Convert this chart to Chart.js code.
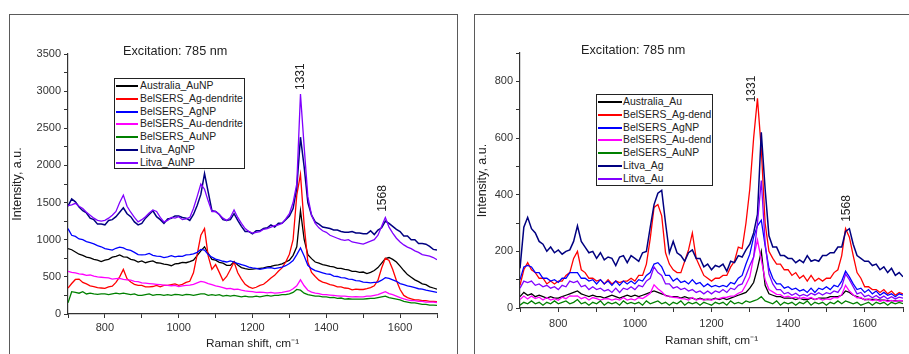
<!DOCTYPE html>
<html><head><meta charset="utf-8">
<script src="https://cdn.jsdelivr.net/npm/chart.js@4.4.1/dist/chart.umd.min.js"></script>
<style>
html,body{margin:0;padding:0;background:#fff;width:909px;height:354px;overflow:hidden;font-family:"Liberation Sans",Arial,sans-serif;}
#wrap{position:relative;width:909px;height:354px;overflow:hidden;}
.frame{position:absolute;border:1.5px solid #5a5a5a;box-sizing:border-box;}
#f1{left:9px;top:14px;width:449px;height:370px;}
#f2{left:474px;top:14px;width:470px;height:370px;}
.cw{position:absolute;top:0;}
#cw1{left:0;width:460px;height:354px;}
#cw2{left:460px;width:449px;height:354px;}
.legend{position:absolute;border:1.5px solid #222;background:#fff;box-sizing:border-box;font-size:10.4px;color:#222;z-index:3;}
.row{position:absolute;left:0;right:0;height:13px;line-height:13px;white-space:nowrap;}
.sw{position:absolute;left:1px;top:6px;height:2px;}
.lt{position:absolute;top:0;}
.exc{position:absolute;font-size:12.7px;color:#222;z-index:3;white-space:nowrap;}
</style></head>
<body><div id="wrap">
<div class="frame" id="f1"></div>
<div class="frame" id="f2"></div>
<div class="cw" id="cw1"><canvas id="c1"></canvas></div>
<div class="cw" id="cw2"><canvas id="c2"></canvas></div>
<div class="exc" style="left:123px;top:44px;">Excitation: 785 nm</div>
<div class="exc" style="left:581px;top:43px;">Excitation: 785 nm</div>
<div class="legend" id="lg1" style="left:114px;top:78px;width:131px;height:91px;"></div>
<div class="legend" id="lg2" style="left:596px;top:94px;width:117px;height:92px;"></div>
</div>
<script>
// Raman shift axis (cm-1)
const ramanShift = [700,710,720,730,740,750,760,770,780,790,
800,810,820,830,840,850,860,870,880,890,
900,910,920,930,940,950,960,970,980,990,
1000,1010,1020,1030,1040,1050,1060,1070,1080,1090,
1100,1110,1120,1130,1140,1150,1160,1170,1180,1190,
1200,1210,1220,1230,1240,1250,1260,1270,1280,1290,
1300,1310,1320,1330,1340,1350,1360,1370,1380,1390,
1400,1410,1420,1430,1440,1450,1460,1470,1480,1490,
1500,1510,1520,1530,1540,1550,1560,1570,1580,1590,
1600,1610,1620,1630,1640,1650,1660,1670,1680,1690,
1700];

// ---- Left panel series ----
const namesLeft = ["Australia_AuNP","BelSERS_Ag-dendrite","BelSERS_AgNP","BelSERS_Au-dendrite","BelSERS_AuNP","Litva_AgNP","Litva_AuNP"];
const L_australia = [880,865,835,805,790,765,755,735,725,705,
725,735,765,775,795,770,765,735,725,700,
715,690,705,715,690,685,670,665,650,675,
680,695,690,705,725,785,850,905,815,735,
725,695,685,655,655,705,660,625,610,600,
605,610,615,620,635,640,655,660,675,700,
725,790,905,1390,1005,800,745,700,685,665,
655,640,635,615,615,600,595,575,575,560,
565,545,560,585,625,685,745,760,735,700,
645,585,530,495,460,435,405,395,365,350,
335];
const L_agDendrite = [350,410,465,470,425,405,380,370,355,350,
345,365,375,425,500,600,475,430,400,385,
385,365,365,370,385,365,385,385,395,405,
385,400,425,440,555,800,1060,1150,780,600,
665,560,450,505,600,700,555,470,400,365,
345,360,385,400,440,485,520,575,620,700,
805,1000,1600,1880,1200,700,560,505,455,430,
415,395,385,365,365,350,345,325,335,330,
330,340,355,380,455,620,750,720,600,450,
330,250,220,205,190,190,180,180,170,170,
165];
const L_agNP = [1150,1060,1045,1010,1000,975,960,945,920,905,
880,870,860,885,900,890,865,855,830,800,
795,800,815,790,780,775,760,770,785,770,
780,775,795,800,810,830,870,860,800,765,
740,725,710,700,715,700,680,665,650,630,
620,615,600,610,620,625,610,620,630,650,
680,720,800,890,780,655,610,585,570,555,
540,535,510,505,490,485,470,465,450,445,
430,425,420,425,430,455,490,480,460,440,
410,395,380,370,355,340,335,320,310,300,
290];
const L_auDendrite = [575,560,555,540,535,520,525,510,500,495,
490,485,470,475,480,465,460,455,440,435,
420,415,410,405,400,395,390,385,380,385,
370,380,385,390,400,420,440,430,410,395,
380,370,355,340,345,330,335,320,310,305,
300,290,295,290,285,290,280,285,290,300,
310,340,380,460,380,320,295,280,275,260,
260,255,250,245,240,240,235,230,235,230,
230,240,240,250,260,280,300,275,260,240,
220,205,190,180,180,170,170,160,160,160,
155];
const L_auNP = [150,300,290,280,300,270,280,270,265,270,
270,260,270,280,270,280,270,260,270,250,
250,260,270,250,260,260,250,260,250,265,
260,250,265,260,250,260,270,270,250,260,
250,260,240,250,240,250,240,230,240,230,
230,240,230,240,250,240,250,250,260,260,
270,290,330,320,280,260,250,240,240,230,
230,220,225,210,215,200,205,200,200,200,
200,205,210,210,220,230,240,220,210,200,
190,170,160,150,150,140,130,130,120,120,
115];
const L_litvaAg = [1450,1550,1510,1440,1390,1360,1290,1270,1210,1210,
1200,1260,1270,1310,1370,1430,1350,1310,1240,1200,
1220,1290,1340,1390,1310,1270,1220,1280,1290,1320,
1320,1300,1290,1260,1340,1460,1610,1890,1640,1390,
1380,1340,1270,1260,1270,1350,1260,1180,1110,1110,
1080,1120,1120,1150,1160,1200,1170,1220,1220,1270,
1320,1420,1700,2380,1980,1500,1330,1240,1210,1170,
1160,1150,1130,1130,1110,1100,1100,1110,1090,1090,
1080,1080,1120,1070,1130,1160,1250,1220,1180,1140,
1110,1050,1050,1000,1000,950,950,940,910,870,
860];
const L_litvaAu = [1460,1470,1490,1450,1420,1370,1330,1290,1260,1250,
1260,1290,1330,1380,1500,1600,1450,1370,1300,1240,
1270,1310,1360,1400,1380,1300,1240,1260,1300,1290,
1310,1270,1280,1300,1420,1580,1750,1680,1520,1380,
1380,1340,1290,1260,1300,1400,1300,1220,1150,1110,
1090,1100,1110,1140,1150,1170,1190,1200,1220,1280,
1350,1500,1750,2960,2250,1580,1330,1220,1160,1120,
1100,1060,1040,1020,1000,990,1000,970,960,950,
940,960,980,1000,1060,1180,1300,1170,1090,1020,
970,930,900,880,850,830,800,790,780,760,
730];

// ---- Right panel series ----
const namesRight = ["Australia_Au","BelSERS_Ag-dend","BelSERS_AgNP","BelSERS_Au-dend","BelSERS_AuNP","Litva_Ag","Litva_Au"];
const R_australia = [40,55,45,50,40,45,40,35,40,35,
35,40,45,50,55,60,50,45,40,45,
40,40,35,40,45,40,35,40,45,40,
45,40,45,50,55,60,55,50,45,40,
40,40,35,40,35,35,30,35,30,30,
30,35,30,35,30,35,40,45,50,55,
70,90,140,200,80,50,45,40,40,35,
35,35,30,35,30,30,35,30,35,35,
35,40,40,40,45,60,55,45,40,35,
30,30,30,30,28,28,26,26,25,25,
25];
const R_agDend = [80,135,160,135,125,105,105,85,95,85,
95,95,115,125,175,200,135,125,105,105,
95,100,85,100,85,95,90,95,95,105,
95,115,115,155,245,355,365,325,195,155,
135,125,125,165,205,265,175,145,115,105,
95,105,105,115,115,145,165,215,210,300,
420,600,740,560,300,200,175,155,155,135,
135,115,125,105,115,95,115,95,105,95,
105,105,125,135,185,280,250,185,125,105,
75,75,65,65,55,65,50,60,45,55,
50];
const R_agNP = [100,145,150,145,125,125,105,105,95,100,
90,105,105,125,125,125,105,105,95,100,
85,100,85,95,80,95,80,95,85,95,
85,100,95,115,125,155,160,145,115,115,
95,105,90,95,85,100,85,90,75,85,
75,80,75,80,75,90,85,105,115,155,
190,250,290,310,220,140,105,85,85,70,
75,65,70,60,65,55,70,55,70,65,
75,65,80,75,95,130,110,85,65,70,
55,65,50,60,45,55,45,50,40,50,
45];
const R_auDend = [30,42,32,42,33,38,28,37,28,33,
27,38,33,43,42,43,33,38,28,37,
33,28,32,33,28,32,28,37,28,32,
28,37,33,42,52,82,68,57,43,42,
38,37,33,32,28,37,28,32,28,32,
28,32,33,37,38,42,43,52,58,82,
110,180,240,170,100,65,57,48,47,38,
42,36,38,33,37,33,37,30,34,28,
32,30,37,36,47,80,60,47,36,37,
28,32,26,30,24,28,23,27,23,27,
25];
const R_auNP = [10,20,15,25,15,20,10,20,15,25,
15,20,25,15,20,30,15,20,10,20,
15,25,10,20,15,20,10,25,15,20,
15,20,10,25,15,20,25,15,20,10,
20,15,25,10,20,15,20,10,20,15,
10,20,15,20,10,25,15,20,15,25,
20,25,30,40,25,20,15,25,10,20,
15,20,10,20,15,25,10,20,15,20,
10,20,15,25,15,25,20,15,20,10,
15,20,10,20,15,20,10,20,15,20,
15];
const R_litvaAg = [140,285,320,280,265,235,225,200,215,195,
205,190,200,205,235,290,235,215,195,200,
175,195,170,180,175,150,180,185,160,185,
175,165,195,200,285,365,405,415,300,195,
235,195,185,165,195,205,175,175,145,155,
135,150,145,155,130,165,160,185,180,205,
225,265,330,620,420,255,215,215,185,185,
175,175,160,170,160,185,165,170,165,185,
185,195,195,215,215,270,280,225,185,175,
165,165,150,155,135,145,125,140,115,125,
110];
const R_litvaAu = [70,95,90,95,80,85,75,80,70,75,
65,80,75,95,90,95,75,80,65,75,
65,70,60,65,55,70,55,70,65,75,
65,80,75,95,105,145,125,115,85,85,
70,75,65,70,60,65,55,60,50,60,
50,60,55,65,55,70,65,80,85,115,
150,180,300,450,230,120,85,65,65,50,
55,45,52,42,48,42,52,46,54,46,
54,50,60,55,75,120,100,75,50,55,
40,45,36,44,34,42,32,40,32,38,
35];

const seriesColors = ["#000000","#ff0000","#0000ff","#ff00ff","#008000","#000080","#8000ff"];
const seriesWidths = [1.3,1.3,1.3,1.3,1.3,1.5,1.3];

// peak annotation labels (text, x value, y value where text starts)
const peaksLeft = [["1331",1331,3015],["1568",1554,1375]];
const peaksRight = [["1331",1304,726],["1568",1554,304]];

const FONT = '"Liberation Sans", Arial, sans-serif';

const peakPlugin = {
  id:'peaks',
  afterDatasetsDraw(chart, args, opts){
    const {ctx, scales:{x,y}} = chart;
    ctx.save();
    ctx.fillStyle = '#222';
    ctx.font = '12px ' + FONT;
    ctx.textAlign = 'left';
    ctx.textBaseline = 'middle';
    for (const [t,xv,yv] of opts.labels){
      ctx.save();
      ctx.translate(x.getPixelForValue(xv), y.getPixelForValue(yv));
      ctx.rotate(-Math.PI/2);
      ctx.fillText(t,0,0);
      ctx.restore();
    }
    ctx.restore();
  }
};

function buildLegend(el, names){
  names.forEach((n,i)=>{
    const r = document.createElement('div'); r.className='row';
    r.style.top = Math.round(i*12.8) + 'px';
    const s = document.createElement('div'); s.className='sw';
    s.style.width = (el.id==='lg1'?22:24)+'px';
    s.style.background = seriesColors[i];
    const t = document.createElement('span'); t.className='lt';
    t.style.left = (el.id==='lg1'?25:26)+'px';
    t.textContent = n;
    r.appendChild(s); r.appendChild(t); el.appendChild(r);
  });
}

function makeChart(id, names, arrays, cfg){
  const datasets = arrays.map((arr,i)=>({
    label:names[i],
    data: arr.map((v,k)=>({x:ramanShift[k], y:v})),
    borderColor:seriesColors[i],
    borderWidth:seriesWidths[i],
    pointRadius:0,
    fill:false,
    tension:0,
    order:names.length - i
  }));
  const tickCol = '#333';
  return new Chart(document.getElementById(id), {
    type:'line',
    data:{datasets},
    plugins:[peakPlugin],
    options:{
      responsive:true, maintainAspectRatio:false, animation:false,
      layout:{padding:{left:0, top:cfg.top, right:cfg.right, bottom:0}},
      plugins:{legend:{display:false}, tooltip:{enabled:false}, peaks:{labels:cfg.peaks}},
      scales:{
        x:{type:'linear', min:700, max:1700,
          afterFit:s=>{s.height=cfg.xh;},
          border:{display:true,color:tickCol,width:1.2},
          grid:{display:true,drawOnChartArea:false,drawTicks:true,tickLength:4,color:tickCol,tickWidth:1},
          ticks:{stepSize:100,autoSkip:false,maxRotation:0,padding:cfg.xpad,color:tickCol,font:{family:FONT,size:11},
            callback:v=> (v%200===0? String(v):'')},
          title:{display:true,text:'Raman shift, cm\u207B\u00B9',color:'#222',font:{family:FONT,size:11.8},padding:{top:0,bottom:cfg.xtp}}
        },
        y:{type:'linear', min:0, max:cfg.ymax,
          afterFit:s=>{s.width=cfg.yw;},
          border:{display:true,color:tickCol,width:1.2},
          grid:{display:true,drawOnChartArea:false,drawTicks:true,tickLength:4,color:tickCol,tickWidth:1},
          ticks:{stepSize:cfg.ystep,autoSkip:false,padding:3,color:tickCol,font:{family:FONT,size:11},
            callback:v=> (v%cfg.ylab===0? String(v):'')},
          title:{display:true,text:'Intensity, a.u.',color:'#222',font:{family:FONT,size:12.5},padding:{top:cfg.ytp,bottom:0}}
        }
      }
    }
  });
}

buildLegend(document.getElementById('lg1'), namesLeft);
buildLegend(document.getElementById('lg2'), namesRight);

makeChart('c1', namesLeft,
  [L_australia,L_agDendrite,L_agNP,L_auDendrite,L_auNP,L_litvaAg,L_litvaAu],
  {top:54,right:23,xh:40,yw:68,ymax:3500,ystep:250,ylab:500,xpad:3,xtp:3,ytp:10,peaks:peaksLeft});
makeChart('c2', namesRight,
  [R_australia,R_agDend,R_agNP,R_auDend,R_auNP,R_litvaAg,R_litvaAu],
  {top:53,right:6,xh:46,yw:60,ymax:900,ystep:100,ylab:200,xpad:5,xtp:6,ytp:15,peaks:peaksRight});
</script>
</body></html>
